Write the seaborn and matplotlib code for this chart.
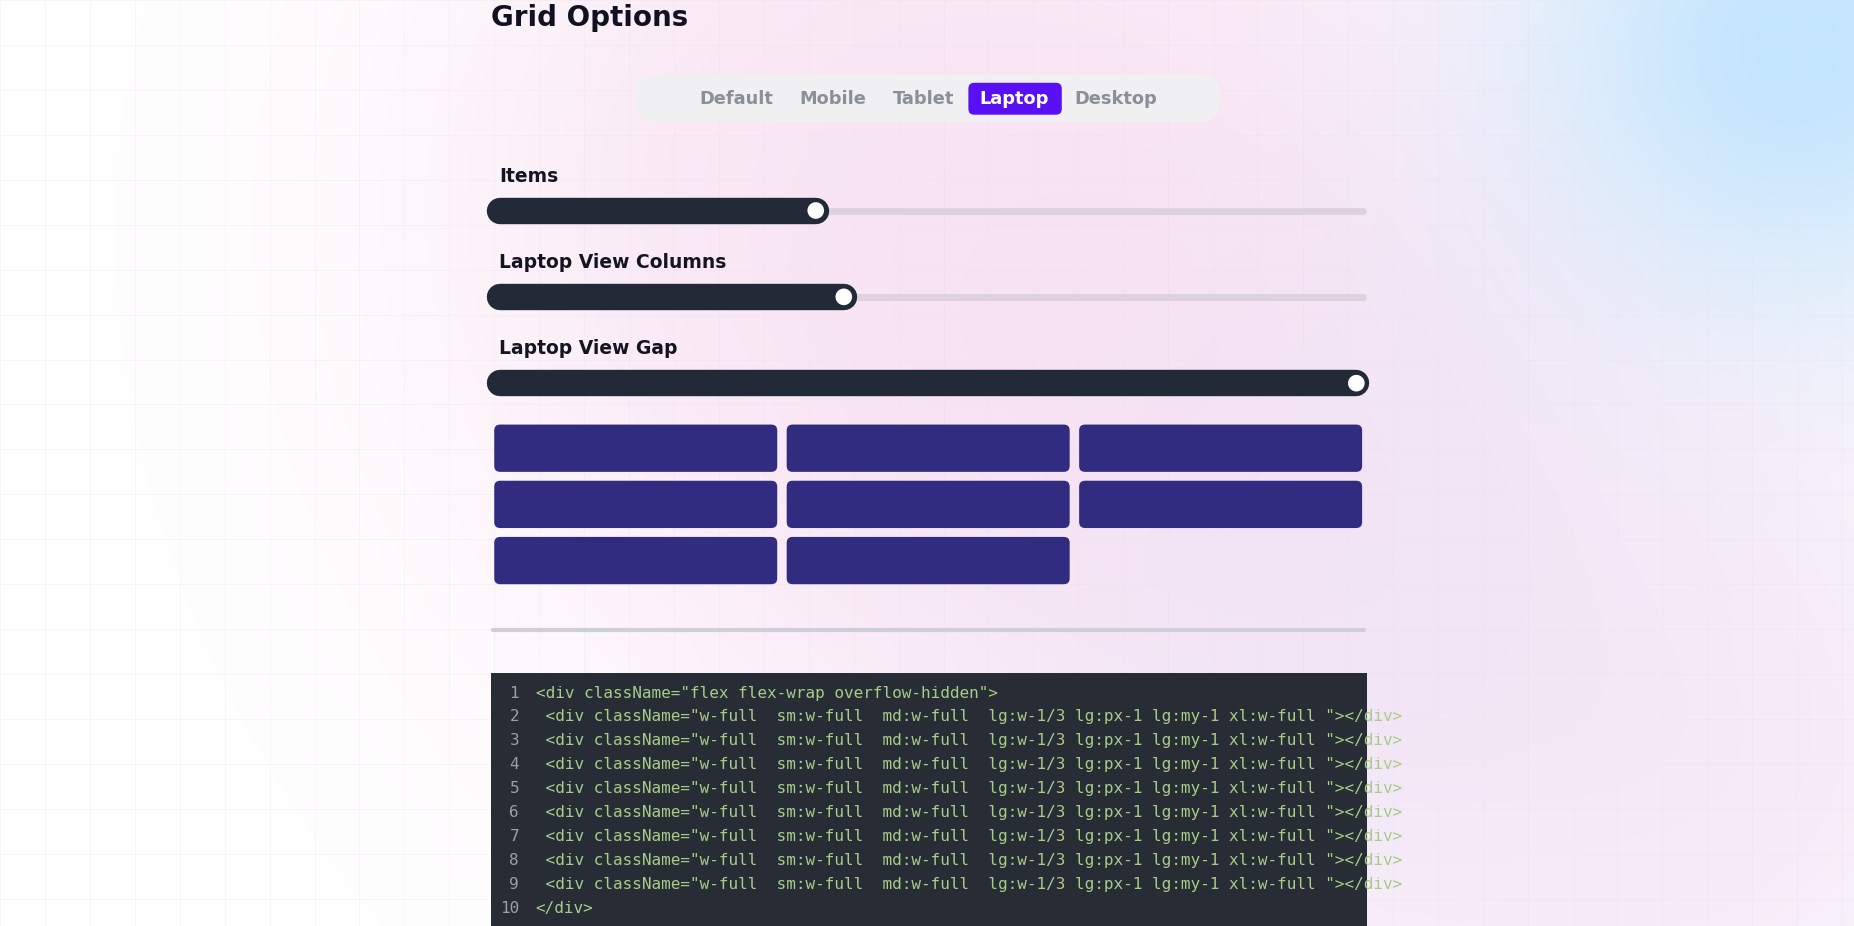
import numpy as np
import matplotlib.pyplot as plt
import seaborn as sns
from matplotlib.patches import FancyBboxPatch, Circle

sns.set_theme(style="white")

# page content
title = "Grid Options"
tabs = ["Default", "Mobile", "Tablet", "Laptop", "Desktop"]
tab_x = [623, 704, 781, 858, 944]
active_tab = "Laptop"
slider_labels = ["Items", "Laptop View Columns", "Laptop View Gap"]
slider_fraction = [0.371, 0.403, 0.988]
n_items = 8
n_cols = 3
code_lines = ['<div className="flex flex-wrap overflow-hidden">'] + \
    [' <div className="w-full  sm:w-full  md:w-full  lg:w-1/3 lg:px-1 lg:my-1 xl:w-full "></div>'] * n_items + \
    ['</div>']

W, H = 1568, 783
fig = plt.figure(figsize=(18.54, 9.26), dpi=100)
ax = fig.add_axes([0, 0, 1, 1])
ax.set_xlim(0, W)
ax.set_ylim(H, 0)
ax.axis("off")

# soft background blobs
yy, xx = np.mgrid[0:H:2, 0:W:2]
def blob(cx, cy, r):
    return np.exp(-(((xx - cx) / r) ** 2 + ((yy - cy) / r) ** 2))
bg = np.ones(xx.shape + (3,))
for (cx, cy, r, col, a) in [(900, 250, 420, (0.98, 0.86, 0.94), 0.8),
                            (1150, 500, 380, (0.93, 0.88, 0.96), 0.7),
                            (1520, 40, 230, (0.76, 0.90, 0.99), 1.0),
                            (700, 120, 300, (0.97, 0.89, 0.95), 0.6),
                            (1450, 650, 300, (0.95, 0.89, 0.96), 0.6)]:
    b = blob(cx, cy, r)[..., None] * a
    bg = bg * (1 - b) + np.array(col) * b
ax.imshow(bg, extent=[0, W, H, 0], zorder=0, aspect="auto")
for g in range(0, W, 38):
    ax.axvline(g, color="#e8dcea", lw=0.5, alpha=0.35, zorder=0.5)
for g in range(0, H, 38):
    ax.axhline(g, color="#e8dcea", lw=0.5, alpha=0.35, zorder=0.5)

def rbox(x0, y0, w, h, color, r=5, z=2):
    ax.add_patch(FancyBboxPatch((x0 + r, y0 + r), w - 2 * r, h - 2 * r,
                                boxstyle=f"round,pad={r}", fc=color, ec="none", zorder=z))

ax.text(415, 15, title, fontsize=20, fontweight="bold", color="#111122", va="center", zorder=3)

# tabs
rbox(538, 63, 494, 40, "#f0f0f2", r=18)
for name, x in zip(tabs, tab_x):
    if name == active_tab:
        rbox(819, 70, 79, 27, "#5a10f5", r=5, z=3)
        col = "white"
    else:
        col = "#8b8f98"
    ax.text(x, 83.5, name, fontsize=12.8, fontweight="bold", color=col,
            ha="center", va="center", zorder=4)

# sliders
x0, x1 = 415, 1156
for i, (lab, frac) in enumerate(zip(slider_labels, slider_fraction)):
    ly = 149 + 73 * i
    ty = ly + 29
    ax.text(422, ly, lab, fontsize=13.5, fontweight="bold", color="#151522", va="center", zorder=3)
    ax.plot([x0 + 3, x1 - 3], [ty, ty], color="#ddd2de", lw=5, solid_capstyle="round", zorder=2)
    kx = x0 + frac * (x1 - x0)
    ax.plot([x0 + 8, kx], [ty, ty], color="#222a38", lw=19, solid_capstyle="round", zorder=3)
    ax.add_patch(Circle((kx, ty), 8.5, fc="white", ec="#222a38", lw=2.5, zorder=4))

# grid of items
col_w = (1152 - 418 - 2 * 8) / n_cols
for k in range(n_items):
    r, c = divmod(k, n_cols)
    rbox(418 + c * (col_w + 8), 359 + r * 47.5, col_w, 40, "#312c80", r=5)

# divider
ax.plot([x0 + 2, x1 - 2], [533, 533], color="#cfcfd8", lw=3, solid_capstyle="round", zorder=2)

# code block
ax.add_patch(plt.Rectangle((415, 569), x1 - 415, H - 569 + 5, fc="#282c34", ec="none", zorder=2))
for i, line in enumerate(code_lines):
    y = 586 + 20.2 * i
    ax.text(439, y, str(i + 1), fontsize=11.5, family="DejaVu Sans Mono", color="#9aa0a8",
            ha="right", va="center", zorder=3)
    ax.text(453, y, line, fontsize=11.5, family="DejaVu Sans Mono", color="#a6cc8a",
            ha="left", va="center", zorder=3)

fig.savefig("out.png", dpi=100)
